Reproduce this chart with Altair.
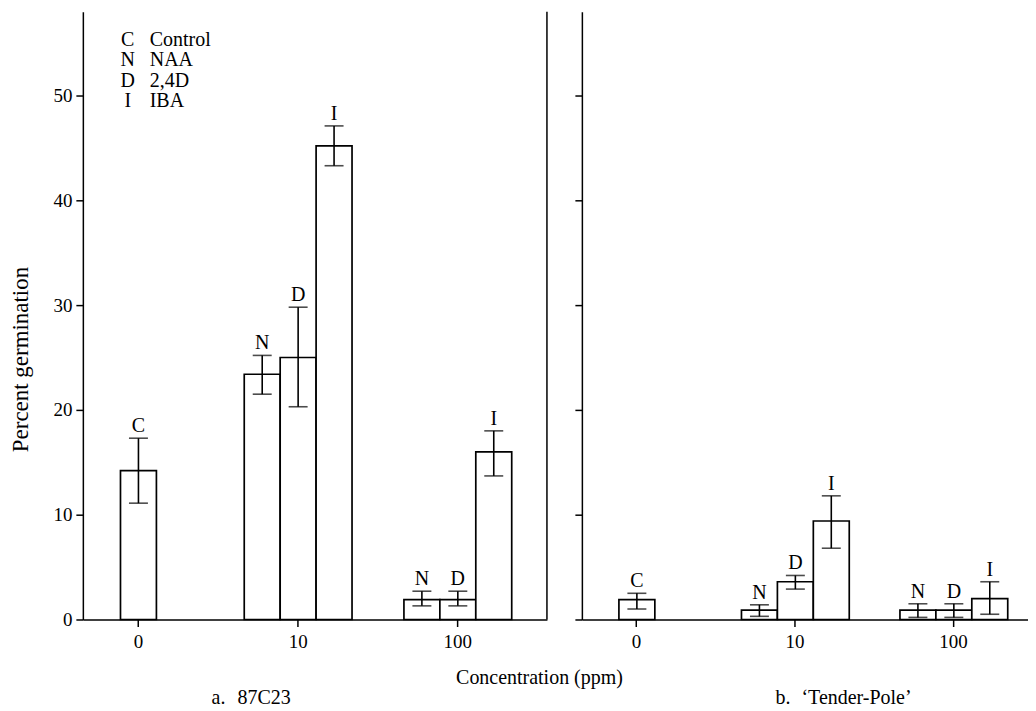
import altair as alt
import pandas as pd

FONT = "Liberation Serif"

# ---- data ----
conc_order = ["0", "10", "100"]
concentrations = ["0", "10", "10", "10", "100", "100", "100"]
treatments = ["C", "N", "D", "I", "N", "D", "I"]
slots = ["M", "L", "M", "R", "L", "M", "R"]

# a. 87C23
a_mean = [14.2, 23.4, 25.0, 45.2, 1.9, 1.9, 16.0]
a_low = [11.1, 21.5, 20.3, 43.3, 1.3, 1.3, 13.7]
a_high = [17.3, 25.2, 29.8, 47.1, 2.7, 2.7, 18.0]

# b. 'Tender-Pole'
b_mean = [1.9, 0.9, 3.6, 9.4, 0.9, 0.9, 2.0]
b_low = [1.0, 0.3, 2.9, 6.8, 0.2, 0.2, 0.5]
b_high = [2.5, 1.4, 4.2, 11.8, 1.5, 1.5, 3.6]

legend_codes = ["C", "N", "D", "I"]
legend_names = ["Control", "NAA", "2,4D", "IBA"]
panel_letters = ["a.", "b."]
cultivars = ["87C23", "\u2018Tender-Pole\u2019"]
y_ticks = [0, 10, 20, 30, 40, 50]
y_max = 58

H = 609
TXT = 20


def panel(mean, low, high, width, pad_outer, align, idx):
    df = pd.DataFrame({
        "conc": concentrations,
        "treatment": treatments,
        "slot": slots,
        "mean": mean,
        "low": low,
        "high": high,
    })
    first = idx == 0
    if first:
        x_axis = alt.Axis(labelAngle=0, title="Concentration (ppm)",
                          titleX=457, titleY=58, titleBaseline="middle",
                          titleAlign="center")
    else:
        x_axis = alt.Axis(labelAngle=0, title=None)
    x = alt.X("conc:N", sort=conc_order,
              scale=alt.Scale(domain=conc_order, paddingInner=0.325,
                              paddingOuter=pad_outer, align=align),
              axis=x_axis)
    xo = alt.XOffset("slot:N", scale=alt.Scale(domain=["L", "M", "R"],
                                               paddingInner=0, paddingOuter=0))
    yscale = alt.Scale(domain=[0, y_max], nice=False, zero=True)
    if first:
        y_axis = alt.Axis(values=y_ticks, grid=False, title="Percent germination",
                          titleX=-62, titleY=348, titleAlign="center",
                          titleBaseline="middle", titleFontSize=23)
    else:
        y_axis = alt.Axis(values=y_ticks, grid=False, labels=False, title=None)
    ytitle = "Percent germination" if first else None

    base = alt.Chart(df)
    bars = base.mark_bar(fill="white", stroke="black", strokeWidth=1.7).encode(
        x=x, xOffset=xo, y=alt.Y("mean:Q", scale=yscale, axis=y_axis))
    err = base.mark_rule(color="black", strokeWidth=1.6).encode(
        x=x, xOffset=xo, y=alt.Y("low:Q", title=ytitle), y2="high:Q")
    cap_hi = base.mark_tick(orient="horizontal", size=19, thickness=1.6,
                            color="black").encode(
        x=x, xOffset=xo, y=alt.Y("high:Q", title=ytitle))
    cap_lo = base.mark_tick(orient="horizontal", size=19, thickness=1.6,
                            color="black").encode(
        x=x, xOffset=xo, y=alt.Y("low:Q", title=ytitle))
    letters = base.mark_text(baseline="bottom", dy=-2, font=FONT, fontSize=TXT,
                             color="black").encode(
        x=x, xOffset=xo, y=alt.Y("high:Q", title=ytitle), text="treatment:N")

    lab_df = pd.DataFrame({"letter": [panel_letters[idx]], "name": [cultivars[idx]]})
    lab_x = 129 if first else 194
    plabel = alt.Chart(lab_df).mark_text(align="left", baseline="middle",
                                         font=FONT, fontSize=TXT, color="black").encode(
        x=alt.value(lab_x), y=alt.value(H + 79), text="letter:N")
    pname = alt.Chart(lab_df).mark_text(align="left", baseline="middle",
                                        font=FONT, fontSize=TXT, color="black").encode(
        x=alt.value(lab_x + 26), y=alt.value(H + 79), text="name:N")

    layers = [bars, err, cap_hi, cap_lo, letters, plabel, pname]

    if first:
        border = alt.Chart(pd.DataFrame({"k": [0]})).mark_rule(
            color="black", strokeWidth=1.5).encode(
            x=alt.value(width), y=alt.value(0), y2=alt.value(H))
        leg_df = pd.DataFrame({"k": [0]})
        leg_codes = alt.Chart(leg_df).mark_text(
            text=legend_codes, align="center", baseline="alphabetic",
            lineHeight=20.5, font=FONT, fontSize=TXT, color="black").encode(
            x=alt.value(45), y=alt.value(34))
        leg_names = alt.Chart(leg_df).mark_text(
            text=legend_names, align="left", baseline="alphabetic",
            lineHeight=20.5, font=FONT, fontSize=TXT, color="black").encode(
            x=alt.value(67), y=alt.value(34))
        layers += [border, leg_codes, leg_names]

    return alt.layer(*layers).properties(width=width, height=H)


left = panel(a_mean, a_low, a_high, 465, 0.1156, 0.046, 0)
right = panel(b_mean, b_low, b_high, 447, 0.07, 0.05, 1)

chart = alt.hconcat(left, right, spacing=35, bounds="flush").properties(
    padding={"left": 2, "top": 2, "right": 0, "bottom": 2}
).configure_view(strokeWidth=0).configure_axis(
    domainColor="black", domainWidth=1.5, tickColor="black", tickWidth=1.5,
    tickSize=7, labelColor="black", labelFont=FONT, labelFontSize=19,
    labelPadding=4, titleFont=FONT, titleFontSize=TXT, titleFontWeight="normal",
    titleColor="black"
).configure_axisX(labelPadding=6)

chart.save("out.html", embed_options={"renderer": "svg", "actions": False})
